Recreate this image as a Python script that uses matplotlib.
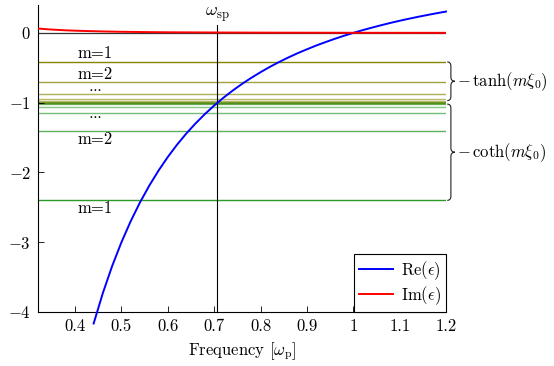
import numpy as np
import matplotlib
matplotlib.use("Agg")
import matplotlib.pyplot as plt
from matplotlib.path import Path
from matplotlib.patches import PathPatch
from matplotlib.transforms import blended_transform_factory

plt.rcParams['mathtext.fontset'] = 'cm'
plt.rcParams['font.family'] = 'serif'
plt.rcParams['font.serif'] = ['cmr10', 'DejaVu Serif']
plt.rcParams['axes.formatter.use_mathtext'] = True

# ---- data ----
freq_re = [0.44, 0.46, 0.48, 0.50, 0.52, 0.54, 0.56, 0.58, 0.60, 0.62, 0.64, 0.66,
           0.68, 0.70, 0.72, 0.74, 0.76, 0.78, 0.80, 0.82, 0.84, 0.86, 0.88, 0.90,
           0.92, 0.94, 0.96, 0.98, 1.00, 1.02, 1.04, 1.06, 1.08, 1.10, 1.12, 1.14,
           1.16, 1.18, 1.20]
re_eps = [-4.165, -3.726, -3.340, -3.000, -2.698, -2.429, -2.189, -1.973, -1.778,
          -1.601, -1.441, -1.296, -1.163, -1.041, -0.929, -0.826, -0.731, -0.644,
          -0.563, -0.487, -0.417, -0.352, -0.291, -0.235, -0.181, -0.132, -0.085,
          -0.041, 0.000, 0.039, 0.075, 0.110, 0.143, 0.174, 0.203, 0.231, 0.257,
          0.282, 0.306]
freq_im = [0.32, 0.34, 0.36, 0.38, 0.40, 0.43, 0.46, 0.50, 0.55, 0.60, 0.70, 0.80,
           0.90, 1.00, 1.10, 1.20]
im_eps = [0.063, 0.052, 0.044, 0.037, 0.032, 0.026, 0.021, 0.016, 0.012, 0.009,
          0.006, 0.004, 0.003, 0.002, 0.0015, 0.0012]
m_values = [1, 2, 3, 4, 5, 6, 7, 8, 9, 10]
tanh_vals = [0.416, 0.709, 0.869, 0.944, 0.976, 0.990, 0.996, 0.998, 0.9993, 0.9997]
coth_vals = [2.400, 1.410, 1.151, 1.059, 1.024, 1.010, 1.004, 1.002, 1.0007, 1.0003]
omega_sp = 0.7071
xticks = [0.4, 0.5, 0.6, 0.7, 0.8, 0.9, 1.0, 1.1, 1.2]
xticklabels = ['0.4', '0.5', '0.6', '0.7', '0.8', '0.9', '1', '1.1', '1.2']
yticks = [0, -1, -2, -3, -4]
yticklabels = [r'$0$', r'$-1$', r'$-2$', r'$-3$', r'$-4$']

FS = 12

fig = plt.figure(figsize=(5.54, 3.66), dpi=100)
ax = fig.add_axes([38/554, 1-312/366, 408/554, 307/366])
ax.set_xlim(0.32, 1.2)
ax.set_ylim(-4, 0.4)

# horizontal lines
for m, t, c in zip(m_values, tanh_vals, coth_vals):
    a = 1/m**0.4
    ax.axhline(-t, color='#858500', lw=1.0, alpha=a, zorder=1)
    ax.axhline(-c, color='#2a9a2a', lw=1.0, alpha=a, zorder=1)

ax.axhline(0, color='#333333', lw=0.9, zorder=2)
ax.plot([omega_sp, omega_sp], [-4, 0.11], color='black', lw=0.8, zorder=2, clip_on=False)
ax.text(omega_sp, 0.13, r'$\omega_\mathrm{sp}$', ha='center', va='bottom', fontsize=13)

l1, = ax.plot(freq_re, re_eps, color='#0000ff', lw=1.4, clip_on=False, zorder=3,
              label=r'$\mathrm{Re}(\epsilon)$')
l2, = ax.plot(freq_im, im_eps, color='#ff0000', lw=1.4, zorder=3,
              label=r'$\mathrm{Im}(\epsilon)$')

# labels
lx = 0.443
for y, s in [(-0.30, 'm=1'), (-0.59, 'm=2'), (-1.52, 'm=2'), (-2.52, 'm=1')]:
    ax.text(lx, y, s, ha='center', va='center', fontsize=FS)
for y in [-0.80, -1.19]:
    ax.text(lx, y, r'$\cdots$', ha='center', va='center', fontsize=10)

# braces
tr = blended_transform_factory(ax.transAxes, ax.transData)
def brace(ytop, ybot, xa=1.003, xm=1.012, xt=1.022, r=0.06):
    ym = (ytop + ybot) / 2
    verts = [(xa, ytop), (xm, ytop), (xm, ytop - r),
             (xm, ym + r), (xm, ym), (xt, ym),
             (xm, ym), (xm, ym - r),
             (xm, ybot + r), (xm, ybot), (xa, ybot)]
    codes = [Path.MOVETO, Path.CURVE3, Path.CURVE3,
             Path.LINETO, Path.CURVE3, Path.CURVE3,
             Path.CURVE3, Path.CURVE3,
             Path.LINETO, Path.CURVE3, Path.CURVE3]
    p = PathPatch(Path(verts, codes), transform=tr, fill=False, lw=0.8,
                  edgecolor='#222222', clip_on=False)
    ax.add_patch(p)
    return ym

ym1 = brace(-0.416, -0.97)
ym2 = brace(-1.02, -2.40)
ax.text(1.026, ym1, r'$-\,\tanh(m\xi_0)$', transform=tr, ha='left', va='center', fontsize=FS)
ax.text(1.026, ym2, r'$-\,\coth(m\xi_0)$', transform=tr, ha='left', va='center', fontsize=FS)

ax.set_xticks(xticks)
ax.set_xticklabels(xticklabels)
ax.set_yticks(yticks)
ax.set_yticklabels(yticklabels)
ax.tick_params(direction='in', length=4, width=0.6, labelsize=FS, pad=5)
ax.spines['top'].set_visible(False)
ax.spines['right'].set_visible(False)
for s in ['left', 'bottom']:
    ax.spines[s].set_linewidth(0.8)
ax.set_xlabel(r'Frequency [$\omega_\mathrm{p}$]', fontsize=FS, labelpad=4)

leg = ax.legend(handles=[l1, l2], loc='lower right', bbox_to_anchor=(1.0, 0.0),
                fontsize=FS, frameon=True, fancybox=False, edgecolor='black',
                framealpha=1, borderaxespad=0, handlelength=2.0, borderpad=0.3,
                labelspacing=0.15, handletextpad=0.5)
leg.get_frame().set_linewidth(0.8)

fig.savefig('out.png', dpi=100)
